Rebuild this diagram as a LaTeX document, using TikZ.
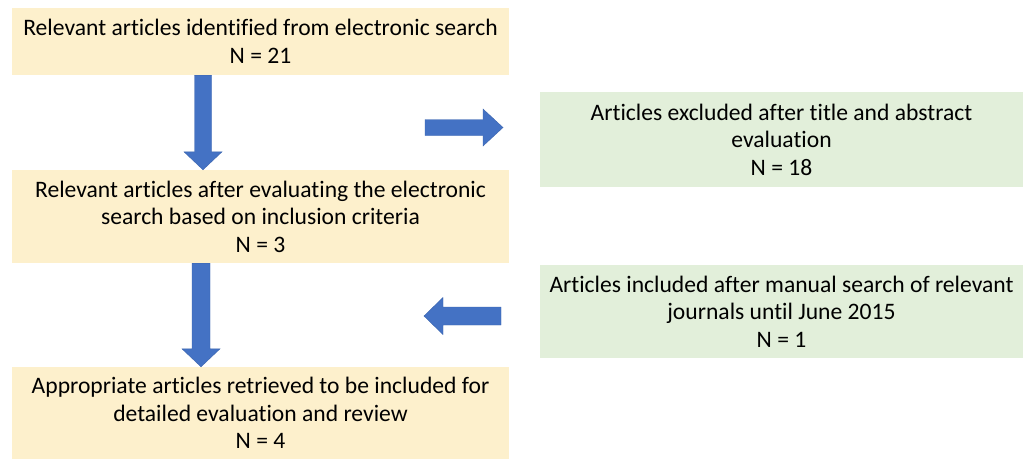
\documentclass[tikz,border=0pt]{standalone}
\usepackage{fontspec}
\setmainfont{Carlito}[Ligatures=CommonOff]
\usetikzlibrary{calc}
\definecolor{tanfill}{HTML}{FDF0CC}
\definecolor{greenfill}{HTML}{E2EFDA}
\definecolor{arrowblue}{HTML}{4472C4}
\definecolor{arrowedge}{HTML}{3A64AE}
\tikzset{
  box/.style={inner sep=0pt, align=center, font=\fontsize{23.6}{27.5}\selectfont, text=black},
  tanbox/.style={box, fill=tanfill, minimum width=497pt},
  greenbox/.style={box, fill=greenfill, minimum width=483pt},
  barrow/.style={fill=arrowblue, draw=arrowedge, line width=0.4pt, line join=miter}
}
\begin{document}
\begin{tikzpicture}[x=1pt,y=-1pt]
\useasboundingbox (0,0) rectangle (1030,459);
\fill[white] (0,0) rectangle (1030,459);
\node[tanbox, minimum height=67pt] (b1) at (260.5,41.5) {Relevant articles identified from electronic search\\N = 21};
\node[tanbox, minimum height=93pt] (b2) at (260.5,216.5) {Relevant articles after evaluating the electronic\\search based on inclusion criteria\\N = 3};
\node[tanbox, minimum height=92pt] (b3) at (260.5,413) {Appropriate articles retrieved to be included for\\detailed evaluation and review\\N = 4};
\node[greenbox, minimum height=95pt] (g1) at (781.5,139.5) {Articles excluded after title and abstract\\evaluation\\N = 18};
\node[greenbox, minimum height=93pt] (g2) at (781.5,311.5) {Articles included after manual search of relevant\\journals until June 2015\\N = 1};
% down arrow 1
\coordinate (d1s) at (b1.south -| 203,0);
\coordinate (d1e) at (b2.north -| 203,0);
\draw[barrow] ($(d1s)+(-8.5,0)$) -- ($(d1e)+(-8.5,-18)$) -- ($(d1e)+(-19,-18)$) -- (d1e)
  -- ($(d1e)+(19,-18)$) -- ($(d1e)+(8.5,-18)$) -- ($(d1s)+(8.5,0)$) -- cycle;
% down arrow 2
\coordinate (d2s) at (b2.south -| 201,0);
\coordinate (d2e) at (b3.north -| 201,0);
\draw[barrow] ($(d2s)+(-9,0)$) -- ($(d2e)+(-9,-18)$) -- ($(d2e)+(-19,-18)$) -- (d2e)
  -- ($(d2e)+(19,-18)$) -- ($(d2e)+(9,-18)$) -- ($(d2s)+(9,0)$) -- cycle;
% right arrow
\coordinate (r1s) at (425,127.5);
\coordinate (r1e) at (503,127.5);
\draw[barrow] ($(r1s)+(0,-8)$) -- ($(r1e)+(-20,-8)$) -- ($(r1e)+(-20,-18.5)$) -- (r1e)
  -- ($(r1e)+(-20,18.5)$) -- ($(r1e)+(-20,8)$) -- ($(r1s)+(0,8)$) -- cycle;
% left arrow
\coordinate (l1s) at (501,316);
\coordinate (l1e) at (424,316);
\draw[barrow] ($(l1s)+(0,-9)$) -- ($(l1e)+(19,-9)$) -- ($(l1e)+(19,-18.5)$) -- (l1e)
  -- ($(l1e)+(19,18.5)$) -- ($(l1e)+(19,9)$) -- ($(l1s)+(0,9)$) -- cycle;
\end{tikzpicture}
\end{document}
